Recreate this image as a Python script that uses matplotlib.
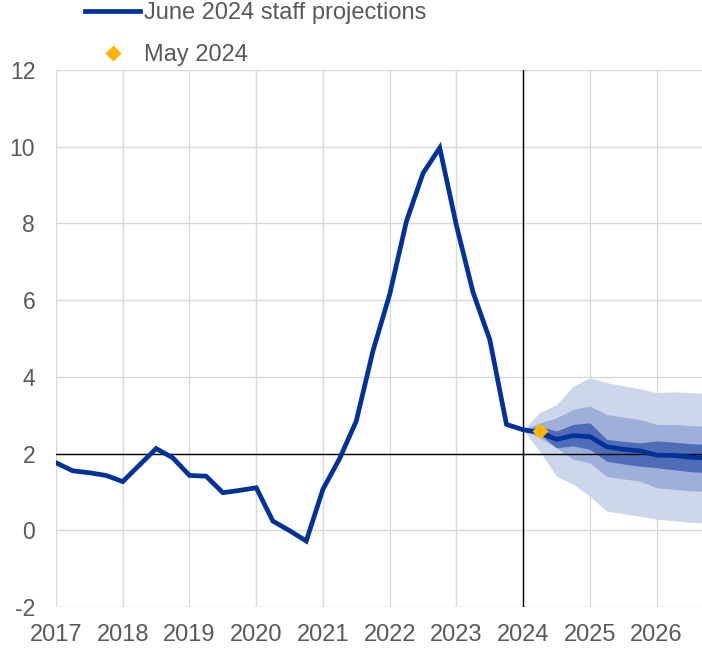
import numpy as np
import matplotlib
matplotlib.use("Agg")
from matplotlib import pyplot as plt
from matplotlib.lines import Line2D

plt.rcParams["font.family"] = ["Liberation Sans", "DejaVu Sans"]
plt.rcParams["axes.unicode_minus"] = False

# quarterly HICP inflation, 2017Q1 - 2026Q4
quarters = np.arange(2017, 2027, 0.25)
hicp = [1.76, 1.55, 1.50, 1.43,
        1.27, 1.70, 2.13, 1.89,
        1.43, 1.41, 0.98, 1.04,
        1.11, 0.24, -0.01, -0.28,
        1.07, 1.87, 2.85, 4.68,
        6.15, 8.05, 9.31, 9.97,
        7.95, 6.20, 4.97, 2.76,
        2.62, 2.55, 2.37, 2.47,
        2.44, 2.18, 2.11, 2.07,
        1.96, 1.95, 1.91, 1.88]

# uncertainty bands, 2024Q1 - 2026Q4
fan_x = np.arange(2024, 2027, 0.25)
outer_hi = [2.62, 3.07, 3.28, 3.76, 3.98, 3.85, 3.77, 3.69, 3.59, 3.61, 3.59, 3.57]
outer_lo = [2.62, 2.05, 1.41, 1.20, 0.89, 0.50, 0.43, 0.37, 0.29, 0.25, 0.21, 0.19]
mid_hi = [2.62, 2.80, 2.93, 3.15, 3.24, 3.02, 2.95, 2.89, 2.76, 2.76, 2.73, 2.72]
mid_lo = [2.62, 2.41, 2.15, 1.85, 1.76, 1.41, 1.34, 1.28, 1.11, 1.07, 1.03, 1.01]
inner_hi = [2.62, 2.70, 2.59, 2.76, 2.80, 2.37, 2.32, 2.28, 2.33, 2.30, 2.26, 2.24]
inner_lo = [2.62, 2.50, 2.15, 2.20, 2.11, 1.80, 1.73, 1.67, 1.63, 1.58, 1.53, 1.50]

may_x = [2024.25]
may_val = [2.59]

years = list(range(2017, 2027))

blue = "#003299"
grey = "#595959"

fig = plt.figure(figsize=(7.02, 6.48), dpi=100)
ax = fig.add_axes([56 / 702, 41 / 648, 1 - 56 / 702, 537 / 648])

ax.fill_between(fan_x, outer_lo, outer_hi, color="#cdd7eb", lw=0, zorder=2)
ax.fill_between(fan_x, mid_lo, mid_hi, color="#9eb0d9", lw=0, zorder=3)
ax.fill_between(fan_x, inner_lo, inner_hi, color="#4f6db7", lw=0, zorder=4)

ax.axhline(2, color="black", lw=1, zorder=5)
ax.axvline(2024, color="black", lw=1, zorder=5)

ax.plot(quarters, hicp, color=blue, lw=3.4, solid_joinstyle="miter", zorder=6)
ax.plot(may_x, may_val, "D", color="#ffb400", ms=8, mec="none", zorder=7)

ax.set_xlim(2017, 2026.68)
ax.set_ylim(-2, 12)
ax.set_xticks(years)
ax.set_yticks(range(-2, 13, 2))
ax.grid(True, color="#d9d9d9", lw=1)
ax.set_axisbelow(True)
for s in ax.spines.values():
    s.set_visible(False)
ax.tick_params(length=0, colors=grey)
ax.tick_params(axis="x", labelsize=17, pad=12)
ax.tick_params(axis="y", labelsize=16.5, pad=15)

handles = [Line2D([], [], color=blue, lw=3.4),
           Line2D([], [], ls="none", marker="D", color="#ffb400", ms=8, mec="none")]
fig.legend(handles, ["June 2024 staff projections", "May 2024"],
           loc="upper left", bbox_to_anchor=(85 / 702, 1 - 2 / 648),
           frameon=False, fontsize=17, labelcolor=grey, handlelength=2.35,
           handletextpad=0.15, labelspacing=0.85, borderpad=0, borderaxespad=0)

fig.savefig("out.png", dpi=100)
